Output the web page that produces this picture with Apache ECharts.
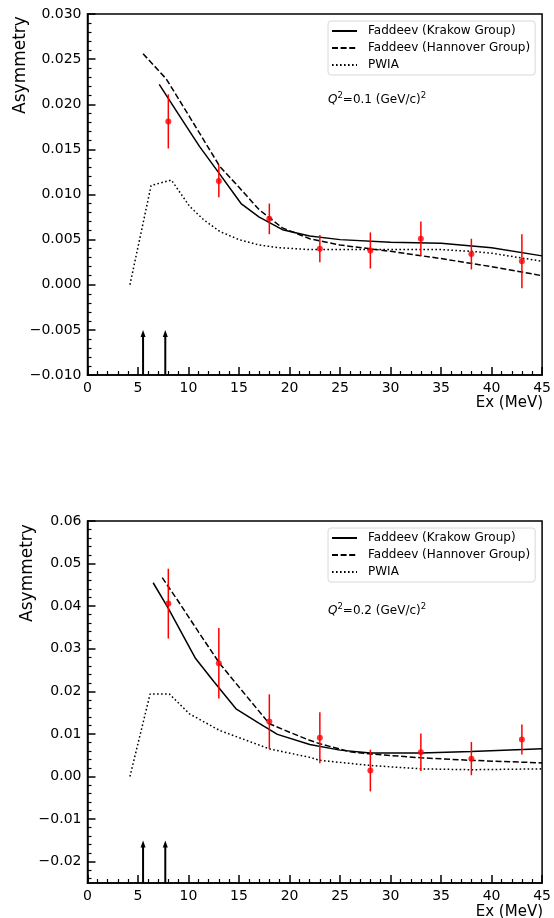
<!DOCTYPE html>
<html><head><meta charset="utf-8">
<script src="https://cdn.jsdelivr.net/npm/echarts@6/dist/echarts.min.js"></script>
<style>html,body{margin:0;padding:0;background:#fff}#c{width:554px;height:918px}</style>
</head><body><div id="c"></div>
<script>
// ---------- data ----------
const seriesNames = ['Faddeev (Krakow Group)', 'Faddeev (Hannover Group)', 'PWIA'];
const dataX = [8, 13, 18, 23, 28, 33, 38, 43];
const arrowX = [5.5, 7.7];

// Q^2 = 0.1 panel
const topDataY = [0.0181, 0.0115, 0.0073, 0.0040, 0.0038, 0.0051, 0.0034, 0.0026];
const topDataErr = [0.0030, 0.0018, 0.0017, 0.0015, 0.0020, 0.0019, 0.0017, 0.0030];
const topKrakow = [[7.1,0.0222],[9,0.0189],[11.1,0.0153],[13,0.0124],[15.2,0.0090],[17,0.0075],[19.3,0.0061],[22,0.0054],[25,0.0050],[30,0.0047],[35,0.0046],[40,0.0041],[45,0.0032]];
const topHannover = [[5.5,0.0256],[7.8,0.0228],[10,0.0188],[13.1,0.0131],[15,0.0108],[17,0.0083],[19.3,0.0063],[22,0.0051],[25,0.0044],[30,0.0037],[35,0.0029],[40,0.0020],[45,0.0010]];
const topPWIA = [[4.2,0.0000],[6.3,0.0110],[8.3,0.0116],[10.1,0.0087],[11.5,0.0072],[13.1,0.0059],[15,0.0050],[17,0.0044],[19,0.0041],[22,0.0039],[25,0.0039],[30,0.0039],[35,0.0039],[38,0.0037],[40,0.0035],[45,0.0026]];
const topArrowFrom = -0.010, topArrowTo = -0.005;

// Q^2 = 0.2 panel
const botDataY = [0.0406, 0.0266, 0.0129, 0.0091, 0.0014, 0.0057, 0.0042, 0.0087];
const botDataErr = [0.0082, 0.0083, 0.0064, 0.0060, 0.0049, 0.0044, 0.0039, 0.0035];
const botKrakow = [[6.5,0.0455],[8,0.0395],[10.7,0.0277],[12.5,0.0223],[14.7,0.0159],[17,0.0125],[18.8,0.0099],[22,0.0075],[25,0.0062],[28,0.0055],[33,0.0055],[38,0.0059],[45,0.0065]];
const botHannover = [[7.4,0.0467],[9,0.0411],[11,0.0339],[13.1,0.0265],[15,0.0210],[18,0.0124],[20,0.0104],[22,0.0085],[23,0.0077],[26,0.0058],[28,0.0053],[33,0.0044],[38,0.0038],[45,0.0032]];
const botPWIA = [[4.2,0.0000],[6.2,0.0194],[8.1,0.0194],[10.1,0.0147],[13.1,0.0108],[15.5,0.0087],[18,0.0065],[22,0.0045],[23,0.0038],[28,0.0026],[33,0.0018],[38,0.0016],[45,0.0018]];
const botArrowFrom = -0.025, botArrowTo = -0.015;

// ticks
const botYMajor = [-0.02, -0.01, 0, 0.01, 0.02, 0.03, 0.04, 0.05, 0.06];
const botYMinor = [-0.024,-0.022,-0.018,-0.016,-0.014,-0.012,-0.008,-0.006,-0.004,-0.002,0.002,0.004,0.006,0.008,0.012,0.014,0.016,0.018,0.022,0.024,0.026,0.028,0.032,0.034,0.036,0.038,0.042,0.044,0.046,0.048,0.052,0.054,0.056,0.058];

// ---------- chart ----------
const FONT = 'DejaVu Sans';
const chart = echarts.init(document.getElementById('c'), null, {renderer: 'canvas'});
const fmt = d => v => (v < -1e-12 ? '\u2212' : '') + Math.abs(v).toFixed(d);

function xAxisDef(gi) {
  return {
    gridIndex: gi, type: 'value', min: 0, max: 45, interval: 5,
    axisLine: {show: true, onZero: false, lineStyle: {color: '#000', width: 1.5}},
    axisTick: {show: true, inside: true, length: 8, lineStyle: {color: '#000', width: 1.5}},
    minorTick: {show: true, splitNumber: 5, length: 4, lineStyle: {color: '#000', width: 1.2}},
    splitLine: {show: false}, minorSplitLine: {show: false},
    axisLabel: {color: '#000', fontSize: 14, fontFamily: FONT, margin: 6}
  };
}
function lineS(name, data, type, xi, yi) {
  return {type: 'line', name, xAxisIndex: xi, yAxisIndex: yi, data, symbol: 'none', showSymbol: false,
    lineStyle: {color: '#000', width: 1.5, type}, itemStyle: {color: '#000'}, z: 3, animation: false};
}
function errS(xs, ys, es, xi, yi) {
  return {type: 'custom', xAxisIndex: xi, yAxisIndex: yi, z: 4, animation: false,
    data: xs.map((x, i) => [x, ys[i] - es[i], ys[i] + es[i]]),
    encode: {x: 0, y: [1, 2]},
    renderItem: (params, api) => {
      const a = api.coord([api.value(0), api.value(1)]);
      const b = api.coord([api.value(0), api.value(2)]);
      return {type: 'line', shape: {x1: a[0], y1: a[1], x2: b[0], y2: b[1]}, style: {stroke: '#ff0000', lineWidth: 1.5}};
    }};
}
function ptS(xs, ys, xi, yi) {
  return {type: 'scatter', xAxisIndex: xi, yAxisIndex: yi, z: 5, animation: false,
    data: xs.map((x, i) => [x, ys[i]]), symbolSize: 6, itemStyle: {color: '#ff0000'}};
}
function arrowS(xs, from, to, xi, yi) {
  return {type: 'custom', xAxisIndex: xi, yAxisIndex: yi, z: 4, animation: false,
    data: xs.map(x => [x, from, to]), encode: {x: 0, y: [1, 2]},
    renderItem: (params, api) => {
      const a = api.coord([api.value(0), api.value(1)]);
      const b = api.coord([api.value(0), api.value(2)]);
      return {type: 'group', children: [
        {type: 'line', shape: {x1: a[0], y1: a[1], x2: b[0], y2: b[1] + 5}, style: {stroke: '#000', lineWidth: 2}},
        {type: 'polygon', shape: {points: [[b[0], b[1]], [b[0] - 2.5, b[1] + 7], [b[0] + 2.5, b[1] + 7]]}, style: {fill: '#000'}}
      ]};
    }};
}
function legendDef(top) {
  return {data: seriesNames, orient: 'vertical', left: 328, top, itemWidth: 25, itemHeight: 14, itemGap: 5,
    padding: [4, 5, 4, 3], borderColor: '#d8d8d8', borderWidth: 1, borderRadius: 3,
    backgroundColor: 'rgba(255,255,255,0.8)', selectedMode: false,
    itemStyle: {opacity: 0},
    textStyle: {color: '#000', fontSize: 12, fontFamily: FONT, padding: [0, 0, 0, 6]}};
}
function qText(val, y) {
  return {type: 'text', left: 328, top: y - 8, z: 10,
    style: {text: '{q|Q}{s|2}{n|=' + val + ' (GeV/c)}{s|2}', rich: {
      q: {fontStyle: 'italic', fontSize: 12, fontFamily: FONT, lineHeight: 15, verticalAlign: 'bottom'},
      n: {fontSize: 12, fontFamily: FONT, lineHeight: 15, verticalAlign: 'bottom'},
      s: {fontSize: 8.5, fontFamily: FONT, lineHeight: 15, verticalAlign: 'top'}
    }, fill: '#000'}};
}
function yTitle(x, y) {
  return {type: 'text', x, y, rotation: Math.PI / 2, z: 10,
    style: {text: 'Asymmetry', fontSize: 17, fontFamily: FONT, fill: '#000', align: 'center', verticalAlign: 'middle'}};
}
function xTitle(y) {
  return {type: 'text', x: 543, y, z: 10,
    style: {text: 'Ex (MeV)', fontSize: 15, fontFamily: FONT, fill: '#000', align: 'right', verticalAlign: 'middle'}};
}

const option = {
  backgroundColor: '#fff',
  animation: false,
  grid: [
    {left: 87.5, top: 14, width: 456, height: 361, show: true, borderColor: '#000', borderWidth: 1.5, backgroundColor: 'transparent'},
    {left: 87.5, top: 521, width: 456, height: 362, show: true, borderColor: '#000', borderWidth: 1.5, backgroundColor: 'transparent'}
  ],
  xAxis: [xAxisDef(0), xAxisDef(1)],
  yAxis: [
    {gridIndex: 0, type: 'value', min: -0.01, max: 0.03, interval: 0.005,
      axisLine: {show: true, onZero: false, lineStyle: {color: '#000', width: 1.5}},
      axisTick: {show: true, inside: true, length: 8, lineStyle: {color: '#000', width: 1.5}},
      minorTick: {show: true, splitNumber: 5, length: 4, lineStyle: {color: '#000', width: 1.2}},
      splitLine: {show: false}, minorSplitLine: {show: false},
      axisLabel: {color: '#000', fontSize: 14, fontFamily: FONT, margin: 6, formatter: fmt(3)}},
    {gridIndex: 1, type: 'value', min: -0.025, max: 0.06,
      axisLine: {show: true, onZero: false, lineStyle: {color: '#000', width: 1.5}},
      axisTick: {show: true, inside: true, length: 8, customValues: botYMajor, lineStyle: {color: '#000', width: 1.5}},
      splitLine: {show: false},
      axisLabel: {color: '#000', fontSize: 14, fontFamily: FONT, margin: 6, customValues: botYMajor, formatter: fmt(2)}},
    {gridIndex: 1, type: 'value', min: -0.025, max: 0.06, position: 'left', offset: 0,
      axisLine: {show: false, onZero: false},
      axisTick: {show: true, inside: true, length: 4, customValues: botYMinor, lineStyle: {color: '#000', width: 1.2}},
      splitLine: {show: false}, axisLabel: {show: false}}
  ],
  legend: [legendDef(21), legendDef(528)],
  graphic: [yTitle(21, 65), yTitle(28, 573), xTitle(403), xTitle(912), qText('0.1', 99), qText('0.2', 610)],
  series: [
    lineS(seriesNames[0], topKrakow, 'solid', 0, 0),
    lineS(seriesNames[1], topHannover, [6, 2.6], 0, 0),
    lineS(seriesNames[2], topPWIA, [1.6, 2.4], 0, 0),
    errS(dataX, topDataY, topDataErr, 0, 0),
    ptS(dataX, topDataY, 0, 0),
    arrowS(arrowX, topArrowFrom, topArrowTo, 0, 0),
    lineS(seriesNames[0], botKrakow, 'solid', 1, 1),
    lineS(seriesNames[1], botHannover, [6, 2.6], 1, 1),
    lineS(seriesNames[2], botPWIA, [1.6, 2.4], 1, 1),
    errS(dataX, botDataY, botDataErr, 1, 1),
    ptS(dataX, botDataY, 1, 1),
    arrowS(arrowX, botArrowFrom, botArrowTo, 1, 1)
  ]
};
chart.setOption(option);
</script>
</body></html>
